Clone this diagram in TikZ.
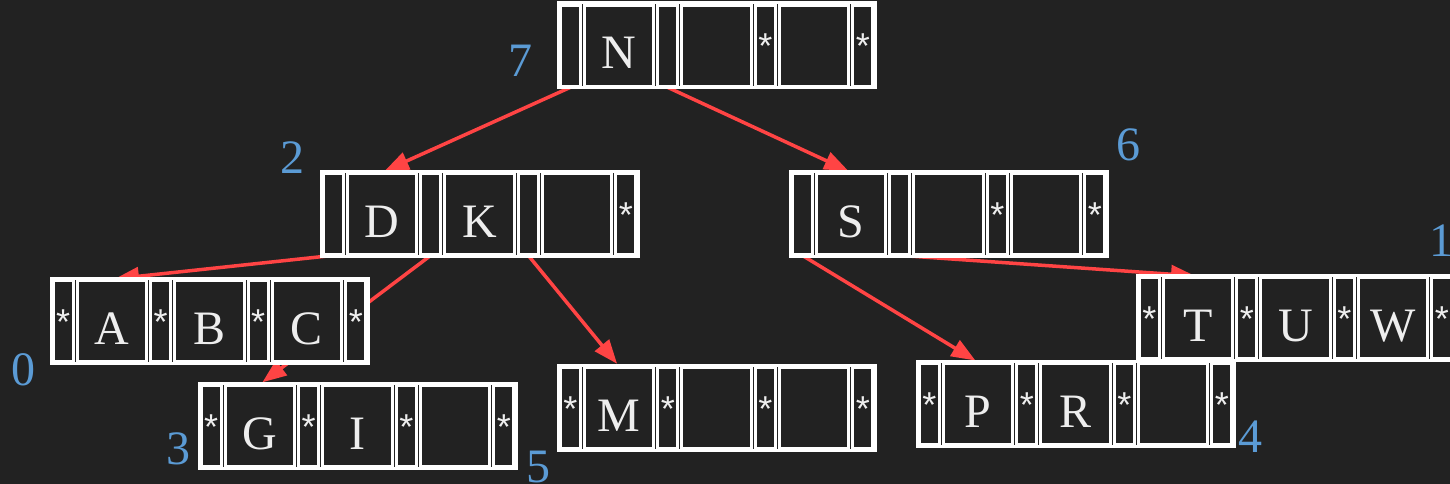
\documentclass[tikz,border=0pt]{standalone}
\usepackage{fontspec}
\setmainfont{Liberation Serif}
\newfontfamily\starfont{Liberation Sans}
\usetikzlibrary{arrows.meta}
\definecolor{bgc}{HTML}{222222}
\definecolor{arrc}{HTML}{FF4444}
\definecolor{numc}{HTML}{5B9BD5}
\definecolor{txtc}{HTML}{EEEEEE}
\pgfdeclarelayer{back}
\pgfdeclarelayer{arrows}
\pgfsetlayers{back,arrows,main}
\tikzset{
  outerbox/.style={draw=white, fill=bgc, line width=3pt, inner sep=0pt, minimum width=317pt, minimum height=85pt},
  pcell/.style={draw=white, line width=2.8pt, inner sep=0pt, minimum width=20pt, minimum height=80.5pt},
  kcell/.style={draw=white, line width=2.8pt, inner sep=0pt, minimum width=69.5pt, minimum height=80.5pt},
  keytext/.style={anchor=base, inner sep=0pt, text=txtc, font=\fontsize{48}{50}\selectfont},
  startext/.style={anchor=base, inner sep=0pt, text=txtc, font=\starfont\fontsize{36}{40}\selectfont},
  numtext/.style={anchor=base, inner sep=0pt, text=numc, font=\fontsize{48}{50}\selectfont},
  link/.style={draw=arrc, line width=3.5pt, -{Triangle[length=24pt,width=18pt]}, shorten >=3pt},
}
% name, left, top, key1, key2, key3, first starred pointer cell
\newcommand\bnode[7]{%
  \node[outerbox] (#1) at (#2+158.5,#3+42.5) {};
  \foreach \i in {1,...,4} {
    \node[pcell] (#1-p\i) at ({#2+12.25+(\i-1)*97.5},#3+42.75) {};
    \ifnum\i<#7\else\node[startext] (#1-s\i) at ({#2+12.25+(\i-1)*97.5},#3+56) {*};\fi
  }
  \foreach \j in {1,2,3} {
    \node[kcell] (#1-k\j) at ({#2+61+(\j-1)*97.5},#3+42.75) {};
  }
  \node[keytext] (#1-t1) at (#2+61,#3+66) {#4};
  \node[keytext] (#1-t2) at (#2+158.5,#3+66) {#5};
  \node[keytext] (#1-t3) at (#2+256,#3+66) {#6};
}
\begin{document}
\begin{tikzpicture}[x=1pt,y=-1pt]
\begin{pgfonlayer}{back}
\fill[bgc] (0,0) rectangle (1450,484);
\end{pgfonlayer}
\useasboundingbox (0,0) rectangle (1450,484);

\bnode{n}{558}{3}{N}{}{}{3}
\bnode{dk}{321}{171}{D}{K}{}{4}
\bnode{s}{790}{171}{S}{}{}{3}
\bnode{abc}{51}{278}{A}{B}{C}{1}
\bnode{gi}{199}{383}{G}{I}{}{1}
\bnode{m}{558}{365}{M}{}{}{1}
\bnode{pr}{917}{361}{P}{R}{}{1}
\bnode{tuw}{1137}{275}{T}{U}{W}{1}

\node[numtext] (l7) at (520,77) {7};
\node[numtext] (l2) at (292,173) {2};
\node[numtext] (l6) at (1128,160) {6};
\node[numtext] (l1) at (1441,256) {1};
\node[numtext] (l0) at (24,385) {0};
\node[numtext] (l3) at (178,464) {3};
\node[numtext] (l5) at (538,482) {5};
\node[numtext] (l4) at (1250,452) {4};

\begin{pgfonlayer}{arrows}
\draw[link] (n-p1.south) -- (dk-k1.north);
\draw[link] (n-p2.south) -- (s-k1.north);
\draw[link] (dk-p1.south) -- (abc-k1.north);
\draw[link] (dk-p2.south) -- (gi-k1.north);
\draw[link] (dk-p3.south) -- (m-k1.north);
\draw[link] (s-p1.south) -- (pr-k1.north);
\draw[link] (s-p2.south) -- (tuw-k1.north);
\end{pgfonlayer}
\end{tikzpicture}
\end{document}
